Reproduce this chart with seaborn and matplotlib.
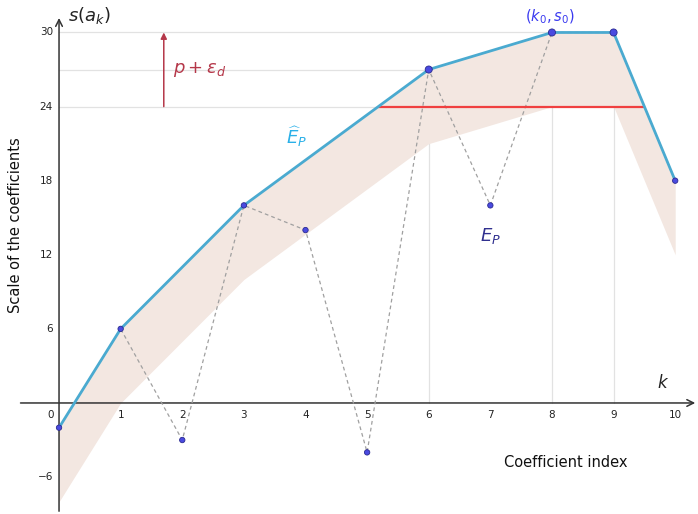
import numpy as np
import pandas as pd
import matplotlib
matplotlib.use("Agg")
import matplotlib.pyplot as plt
import seaborn as sns

# Coefficient scales s(a_k)
k_index = [0, 1, 2, 3, 4, 5, 6, 7, 8, 9, 10]
scale = [-2, 6, -3, 16, 14, -4, 27, 16, 30, 30, 18]

# Upper envelope \hat{E}_P and the lower edge of the tolerance band
hull_k = [0, 1, 3, 6, 8, 9, 10]
hull_s = [-2, 6, 16, 27, 30, 30, 18]
band_low = [-8, 0, 10, 21, 24, 24, 12]

threshold = 24      # s0 - (p + eps_d)
peak_s = 30         # s0
x_ticks = [0, 1, 2, 3, 4, 5, 6, 7, 8, 9, 10]
y_ticks = [-6, 6, 12, 18, 24, 30]

sns.set_theme(style="white")
plt.rcParams["mathtext.fontset"] = "dejavusans"

df = pd.DataFrame({"k": k_index, "s": scale})
hull = pd.DataFrame({"k": hull_k, "s": hull_s})

fig = plt.figure(figsize=(6.98, 5.14), dpi=100)
ax = fig.add_axes([0, 0, 1, 1])
ax.set_xlim(-0.958, 10.37)
ax.set_ylim(-8.99, 32.63)
ax.axis("off")

# light reference lines
grid_c = "#e2e2e2"
ax.plot([0, 9], [peak_s, peak_s], color=grid_c, lw=0.9, zorder=1)
ax.plot([0, 6], [27, 27], color=grid_c, lw=0.9, zorder=1)
# crossing points of the envelope with the threshold
x_start = np.interp(threshold, hull_s[:4], hull_k[:4])
x_end = np.interp(threshold, hull_s[5:][::-1], hull_k[5:][::-1])
ax.plot([0, x_start], [threshold, threshold], color=grid_c, lw=0.9, zorder=1)
for kk in (6, 8, 9):
    ax.plot([kk, kk], [0, scale[kk]], color=grid_c, lw=0.9, zorder=1)

# tolerance band under the envelope
ax.fill_between(hull_k, band_low, hull_s, color="#f3e7e1", lw=0, zorder=2)

# axes with arrows
ax.annotate("", xy=(10.37, 0), xytext=(-0.67, 0),
            arrowprops=dict(arrowstyle="->", color="#333333", lw=1.1), zorder=3)
ax.annotate("", xy=(0, 31.4), xytext=(0, -8.99),
            arrowprops=dict(arrowstyle="->", color="#333333", lw=1.1), zorder=3)

# dashed path through all coefficients
sns.lineplot(data=df, x="k", y="s", ax=ax, color="#a0a0a0", lw=0.9,
             linestyle=(0, (3, 2.5)), zorder=4, sort=False)

# threshold segment
ax.plot([x_start, x_end], [threshold, threshold], color="#f04040", lw=1.6, zorder=5)

# envelope
sns.lineplot(data=hull, x="k", y="s", ax=ax, color="#4aaad0", lw=2.0, zorder=6, sort=False)

# points
sizes = [26 if kk in (6, 8, 9) else 15 for kk in k_index]
sns.scatterplot(data=df, x="k", y="s", ax=ax, color="#4a4ae0", edgecolor="#2a2a90",
                linewidth=0.6, s=sizes, zorder=7, legend=False)
ax.set_xlabel("")
ax.set_ylabel("")

# tick labels
for t in x_ticks:
    ax.text(t - (0.13 if t == 0 else 0), -0.55, str(t), ha="center", va="top",
            fontsize=7.5, color="#222222")
for t in y_ticks:
    lab = "\u22126" if t < 0 else str(t)
    ax.text(-0.1, t, lab, ha="right", va="center", fontsize=7.5, color="#222222")

# p + eps_d arrow
red_dark = "#b5384a"
ax.annotate("", xy=(1.7, peak_s), xytext=(1.7, threshold),
            arrowprops=dict(arrowstyle="-|>", color=red_dark, lw=1.1,
                            mutation_scale=9, shrinkA=0, shrinkB=0), zorder=5)
ax.text(1.85, 27, r"$p+\varepsilon_d$", color=red_dark, fontsize=13,
        ha="left", va="center")

# labels
ax.text(3.85, 21.6, r"$\widehat{E}_P$", color="#2ab0e8", fontsize=13, ha="center", va="center")
ax.text(7.0, 13.5, r"$E_P$", color="#30308f", fontsize=13, ha="center", va="center")
ax.text(7.97, 31.3, r"$(k_0, s_0)$", color="#3a3af0", fontsize=10.5, ha="center", va="center")
ax.text(9.8, 1.6, r"$k$", color="#222222", fontsize=12, ha="center", va="center")
ax.text(0.15, 31.4, r"$s(a_k)$", color="#222222", fontsize=13, ha="left", va="center")
ax.text(-0.7, 14.4, "Scale of the coefficients", rotation=90, fontsize=10.5,
        ha="center", va="center", color="#111111")
ax.text(8.22, -4.8, "Coefficient index", fontsize=10.5, ha="center", va="center",
        color="#111111")

fig.savefig("out.png", dpi=100)
